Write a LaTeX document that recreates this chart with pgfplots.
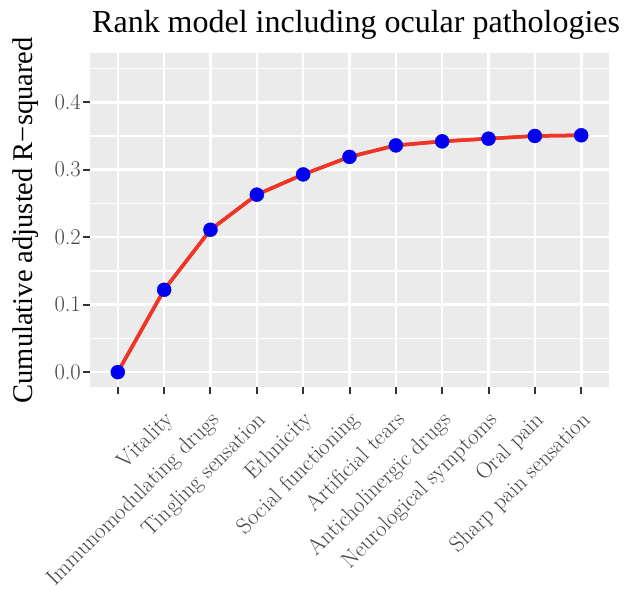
\documentclass[border=0pt]{standalone}
\usepackage{fontspec}
\usepackage{pgfplots}
\pgfplotsset{compat=1.18}
\newfontfamily\timesfont{Liberation Serif}
\definecolor{panelbg}{HTML}{EBEBEB}
\definecolor{ticklab}{HTML}{444444}
\definecolor{tickcol}{HTML}{333333}
\definecolor{linered}{HTML}{EE3526}
\definecolor{ptblue}{HTML}{0000F0}
\begin{document}
\begin{tikzpicture}
\useasboundingbox (-90pt,-202.7pt) rectangle (542pt,387.3pt);
\begin{axis}[
  at={(0,0)}, anchor=south west,
  scale only axis, width=519pt, height=334pt,
  xmin=-0.6, xmax=10.6, ymin=-0.0225, ymax=0.4725,
  axis background/.style={fill=panelbg},
  axis line style={draw=none},
  clip=false,
  xtick={0,1,2,3,4,5,6,7,8,9,10},
  xticklabels={{},Vitality,Immunomodulating drugs,Tingling sensation,Ethnicity,Social functioning,Artificial tears,Anticholinergic drugs,Neurological symptoms,Oral pain,Sharp pain sensation},
  ytick={0,0.1,0.2,0.3,0.4},
  minor ytick={0.05,0.15,0.25,0.35,0.45},
  tick align=outside,
  major tick length=7pt,
  minor tick length=0pt,
  tick style={color=tickcol, line width=2pt},
  xtick pos=bottom, ytick pos=left,
  xmajorgrids, ymajorgrids, yminorgrids,
  major grid style={white, line width=2.6pt},
  minor grid style={white, line width=1.3pt},
  ticklabel style={color=ticklab},
  yticklabel style={font=\fontsize{22.5}{26}\selectfont, anchor=east, inner sep=2pt, /pgf/number format/assume math mode=true, /pgf/number format/fixed, /pgf/number format/fixed zerofill, /pgf/number format/precision=1},
  xticklabel style={font=\fontsize{22.5}{27}\selectfont, xshift=-1pt, yshift=-14pt, rotate=45, anchor=north east, inner sep=1pt},
]
\addplot[linered, line width=3.5pt, mark=none] coordinates {
(0,0.000) (1,0.122) (2,0.211) (3,0.263) (4,0.293) (5,0.319) (6,0.336) (7,0.342) (8,0.346) (9,0.350) (10,0.351)
};
\addplot[only marks, mark=*, mark size=7pt, mark options={fill=ptblue, draw=ptblue}] coordinates {
(0,0.000) (1,0.122) (2,0.211) (3,0.263) (4,0.293) (5,0.319) (6,0.336) (7,0.342) (8,0.346) (9,0.350) (10,0.351)
};
\addplot[linered, line width=3.5pt, mark=none] coordinates {
(0,0.000) (1,0.122) (2,0.211) (3,0.263) (4,0.293) (5,0.319) (6,0.336) (7,0.342) (8,0.346) (9,0.350) (10,0.351)
};
\end{axis}
\node[anchor=base west, inner sep=0pt, font=\timesfont\fontsize{32}{38}\selectfont] at (2pt,355pt) {Rank model including ocular pathologies};
\node[rotate=90, anchor=base, inner sep=0pt, font=\timesfont\fontsize{28.5}{34}\selectfont] at (-57pt,167pt) {Cumulative adjusted R−squared};
\end{tikzpicture}
\end{document}
